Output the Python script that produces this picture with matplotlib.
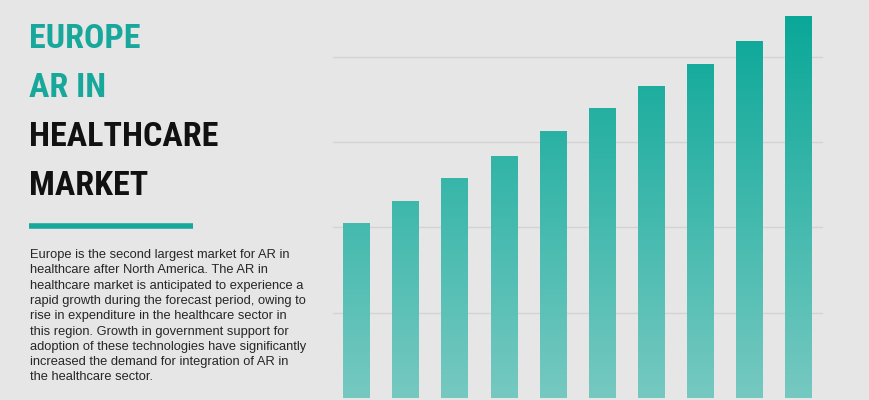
import matplotlib
matplotlib.use("Agg")
import matplotlib.pyplot as plt
import numpy as np
from matplotlib import font_manager
from matplotlib.colors import LinearSegmentedColormap

# Datos (sin etiquetas visibles en el original)
periods = list(range(10))
market_size = [2.05, 2.31, 2.58, 2.84, 3.13, 3.40, 3.66, 3.92, 4.19, 4.48]
grid_values = [1, 2, 3, 4]

title_teal = ["EUROPE", "AR IN"]
title_dark = ["HEALTHCARE", "MARKET"]
body_lines = [
    "Europe is the second largest market for AR in",
    "healthcare after North America. The AR in",
    "healthcare market is anticipated to experience a",
    "rapid growth during the forecast period, owing to",
    "rise in expenditure in the healthcare sector in",
    "this region. Growth in government support for",
    "adoption of these technologies have significantly",
    "increased the demand for integration of AR in",
    "the healthcare sector.",
]

bg = "#e6e6e6"
teal = "#17a89b"

# buscar una fuente estrecha para el titulo
available = {f.name for f in font_manager.fontManager.ttflist}
title_font = "DejaVu Sans"
for name in ["Roboto Condensed", "Liberation Sans Narrow", "DejaVu Sans Condensed", "Open Sans Condensed"]:
    if name in available:
        title_font = name
        break

fig = plt.figure(figsize=(8.7, 4), dpi=100, facecolor=bg)

# Barras
ax = fig.add_axes([332.7 / 870, 2 / 400, 490.6 / 870, 398 / 400])
ax.set_facecolor(bg)
ymax = 398 / 85.3
ax.set_xlim(-0.48, 9.51)
ax.set_ylim(0, ymax)
for g in grid_values:
    ax.axhline(g, color="#d3d3d3", lw=1, zorder=0)

bars = ax.bar(periods, market_size, width=0.53, color="none", edgecolor="none", zorder=2)
cmap = LinearSegmentedColormap.from_list("tg", ["#76c9c1", "#05a696"])
grad = np.linspace(0, 1, 256).reshape(-1, 1)
for b in bars:
    im = ax.imshow(grad, cmap=cmap, origin="lower", aspect="auto",
                   extent=[-0.48, 9.51, 0, ymax], zorder=1)
    im.set_clip_path(b)
ax.set_xlim(-0.48, 9.51)
ax.set_ylim(0, ymax)
for s in ax.spines.values():
    s.set_visible(False)
ax.set_xticks([])
ax.set_yticks([])

# Titulo
y = 39
for line in title_teal:
    fig.text(29 / 870, 1 - y / 400, line, color=teal, fontsize=24.5, fontweight="bold",
             family=title_font, va="center", ha="left")
    y += 49
for line in title_dark:
    fig.text(29 / 870, 1 - y / 400, line, color="#111111", fontsize=24.5, fontweight="bold",
             family=title_font, va="center", ha="left")
    y += 49

fig.add_artist(plt.Line2D([29 / 870, 193 / 870], [1 - 226 / 400, 1 - 226 / 400],
                          color=teal, lw=4, solid_capstyle="butt"))

y = 255
for line in body_lines:
    fig.text(30 / 870, 1 - y / 400, line, color="#262626", fontsize=9.3,
             family="Liberation Sans", va="center", ha="left")
    y += 15.3

fig.savefig("out.png", dpi=100, facecolor=bg)
